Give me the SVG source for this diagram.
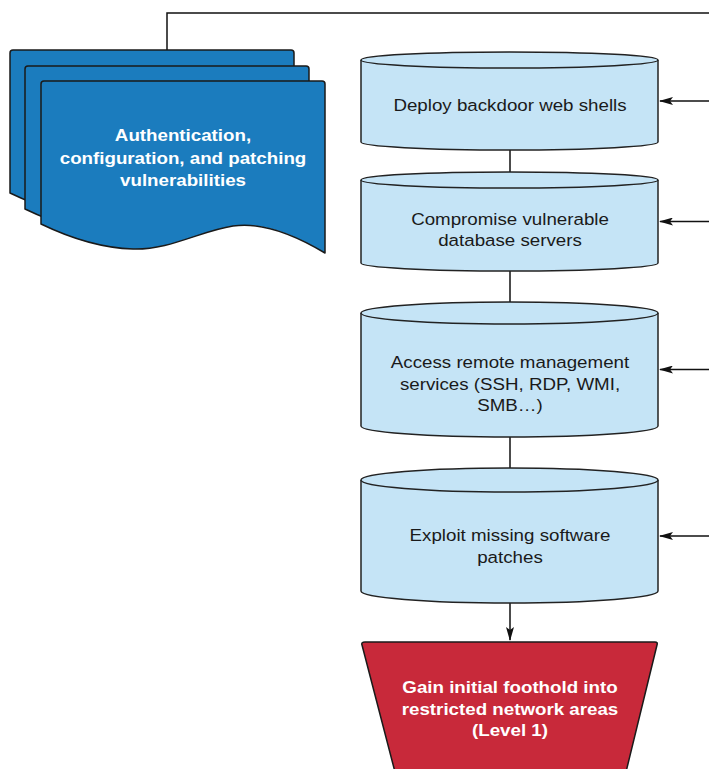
<svg xmlns="http://www.w3.org/2000/svg" width="709" height="769" viewBox="0 0 709 769">
  <style>
    .doc { fill: #1b7cbe; stroke: #1a1a1a; stroke-width: 1.5; stroke-linejoin: round; }
    .cyl { fill: #c5e4f6; stroke: #222; stroke-width: 1.5; }
    .trap { fill: #c8293a; stroke: #1a1a1a; stroke-width: 1.5; stroke-linejoin: round; }
    .edge { fill: none; stroke: #111; stroke-width: 1.5; }
    .lbl { font-family: "Liberation Sans", Arial, sans-serif; font-size: 16.3px; fill: #1a1a1a; text-anchor: middle; }
    .lbl-w { font-family: "Liberation Sans", Arial, sans-serif; font-size: 16.3px; font-weight: bold; fill: #ffffff; text-anchor: middle; }
  </style>
  <defs>
    <marker id="arrow" viewBox="0 0 14 8" markerWidth="14" markerHeight="8" refX="13" refY="4" orient="auto" markerUnits="userSpaceOnUse">
      <path d="M0,0 L14,4 L0,8 L3,4 Z" fill="#111"/>
    </marker>
    <path id="sheet" d="M41,84 Q41,81 44,81 H322 Q325,81 325,84 V253 C290,232 260,222 233,226 C200,231 170,250 133,249 C100,248 70,238 41,224 Z"/>
  </defs>

  <!-- connectors -->
  <g id="connectors">
    <polyline class="edge" points="167,51 167,13 709,13"/>
    <line class="edge" x1="510" y1="150" x2="510" y2="172"/>
    <line class="edge" x1="510" y1="271" x2="510" y2="302"/>
    <line class="edge" x1="510" y1="437" x2="510" y2="468"/>
    <line class="edge" x1="510" y1="603" x2="510" y2="640" marker-end="url(#arrow)"/>
    <line class="edge" x1="709" y1="101" x2="660" y2="101" marker-end="url(#arrow)"/>
    <line class="edge" x1="709" y1="221.5" x2="660" y2="221.5" marker-end="url(#arrow)"/>
    <line class="edge" x1="709" y1="369.5" x2="660" y2="369.5" marker-end="url(#arrow)"/>
    <line class="edge" x1="709" y1="536" x2="660" y2="536" marker-end="url(#arrow)"/>
  </g>

  <!-- stacked documents -->
  <g id="vulnerabilities">
    <use href="#sheet" class="doc" transform="translate(-31,-31)"/>
    <use href="#sheet" class="doc" transform="translate(-16,-15)"/>
    <use href="#sheet" class="doc"/>
    <g transform="translate(183,0) scale(1.15,1)">
      <text class="lbl-w" x="0" y="141.5">Authentication,</text>
      <text class="lbl-w" x="0" y="164">configuration, and patching</text>
      <text class="lbl-w" x="0" y="186.5">vulnerabilities</text>
    </g>
  </g>

  <g id="web-shells">
    <path class="cyl" d="M361,60 V142 A148.5,8 0 0 0 658,142 V60"/>
    <ellipse class="cyl" cx="509.5" cy="60" rx="148.5" ry="8"/>
    <g transform="translate(510,0) scale(1.15,1)">
      <text class="lbl" x="0" y="111">Deploy backdoor web shells</text>
    </g>
  </g>

  <g id="database-servers">
    <path class="cyl" d="M361,180 V263 A148.5,8 0 0 0 658,263 V180"/>
    <ellipse class="cyl" cx="509.5" cy="180" rx="148.5" ry="8"/>
    <g transform="translate(510,0) scale(1.15,1)">
      <text class="lbl" x="0" y="225">Compromise vulnerable</text>
      <text class="lbl" x="0" y="246.5">database servers</text>
    </g>
  </g>

  <g id="remote-management">
    <path class="cyl" d="M361,313 V426 A148.5,11 0 0 0 658,426 V313"/>
    <ellipse class="cyl" cx="509.5" cy="313" rx="148.5" ry="11"/>
    <g transform="translate(510,0) scale(1.15,1)">
      <text class="lbl" x="0" y="368.5">Access remote management</text>
      <text class="lbl" x="0" y="390">services (SSH, RDP, WMI,</text>
      <text class="lbl" x="0" y="411.5">SMB…)</text>
    </g>
  </g>

  <g id="software-patches">
    <path class="cyl" d="M361,480 V591 A148.5,12 0 0 0 658,591 V480"/>
    <ellipse class="cyl" cx="509.5" cy="480" rx="148.5" ry="12"/>
    <g transform="translate(510,0) scale(1.15,1)">
      <text class="lbl" x="0" y="541.5">Exploit missing software</text>
      <text class="lbl" x="0" y="563">patches</text>
    </g>
  </g>

  <g id="initial-foothold">
    <path class="trap" d="M365,642 H655 Q658,642 657,645 L626,772 H395 L362,645 Q361,642 365,642 Z"/>
    <g transform="translate(510,0) scale(1.15,1)">
      <text class="lbl-w" x="0" y="693.5">Gain initial foothold into</text>
      <text class="lbl-w" x="0" y="715">restricted network areas</text>
      <text class="lbl-w" x="0" y="736.5">(Level 1)</text>
    </g>
  </g>
</svg>
